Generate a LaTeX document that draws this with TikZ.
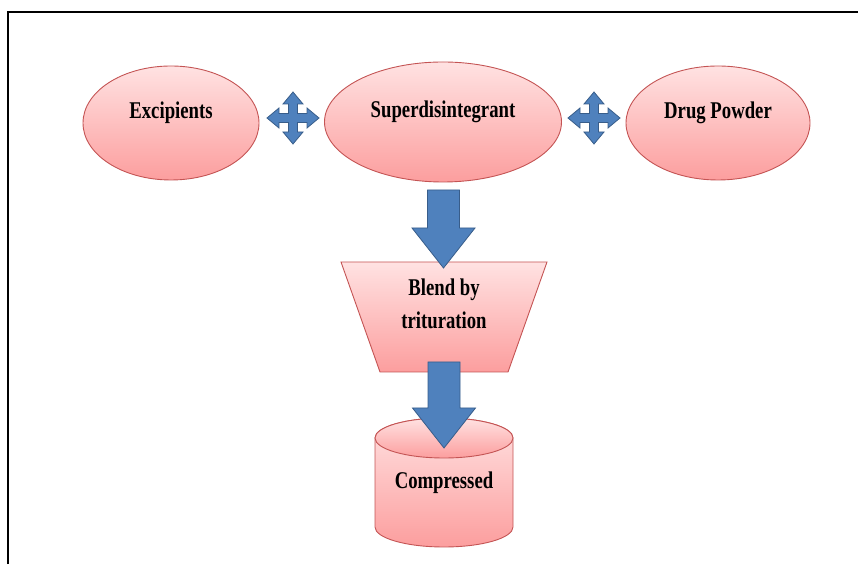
\documentclass[tikz,border=0pt]{standalone}
\usepackage{fontspec}
\setmainfont{Liberation Serif}
\usepackage{tikz}
\usepackage{xcolor}
\usetikzlibrary{shapes.geometric, calc, positioning}

\definecolor{pinktop}{RGB}{255,226,226}
\definecolor{pinkbot}{RGB}{252,158,158}
\definecolor{pinkline}{RGB}{196,84,84}
\definecolor{arrowfill}{RGB}{79,129,189}
\definecolor{arrowline}{RGB}{56,93,138}

\newcommand{\lbl}[1]{\scalebox{0.78}[1]{\bfseries #1}}

\tikzset{
  blob/.style={draw=pinkline, line width=0.9pt, top color=pinktop, bottom color=pinkbot},
  word/.style={font=\fontsize{24}{33}\selectfont, align=center, inner sep=0pt},
  arrowblk/.style={draw=arrowline, line width=0.8pt, fill=arrowfill},
  quad/.pic={
    \draw[arrowblk] (26,0) -- (14,-10) -- (14,-4.5) -- (4.5,-4.5) -- (4.5,-14) -- (10,-14) -- (0,-26)
      -- (-10,-14) -- (-4.5,-14) -- (-4.5,-4.5) -- (-14,-4.5) -- (-14,-10) -- (-26,0)
      -- (-14,10) -- (-14,4.5) -- (-4.5,4.5) -- (-4.5,14) -- (-10,14) -- (0,26)
      -- (10,14) -- (4.5,14) -- (4.5,4.5) -- (14,4.5) -- (14,10) -- cycle;
  },
  down/.pic={
    \draw[arrowblk] (0,0) -- (31.5,40) -- (16,40) -- (16,#1) -- (-16,#1) -- (-16,40) -- (-31.5,40) -- cycle;
  }
}

\begin{document}
\begin{tikzpicture}[x=1pt, y=1pt]
  \useasboundingbox (0,0) rectangle (858,564);
  \draw[line width=2pt] (7.5,0) -- (7.5,552) -- (858,552);

  \node[blob, ellipse, minimum width=176pt, minimum height=114pt,
        label={[word, yshift=10pt]center:\lbl{Excipients}}] (exc) at (171,441) {};
  \node[blob, ellipse, minimum width=237pt, minimum height=120pt,
        label={[word, yshift=10pt]center:\lbl{Superdisintegrant}}] (sup) at (443,442) {};
  \node[blob, ellipse, minimum width=184pt, minimum height=114pt,
        label={[word, yshift=10pt]center:\lbl{Drug Powder}}] (drug) at (718,441) {};

  \pic at (293,446) {quad};
  \pic at (594,446) {quad};

  \draw[blob] (341,302) -- (547,302) -- (508,192) -- (380,192) -- cycle;
  \node[word] (blend) at (444,260) {\lbl{Blend by}\\\lbl{trituration}};

  \draw[blob] (375,126) -- (375,37) arc[start angle=180, end angle=360, x radius=69, y radius=20]
    -- (513,126) arc[start angle=0, end angle=180, x radius=69, y radius=20] -- cycle;
  \draw[blob] (444,126) ellipse[x radius=69, y radius=20];
  \coordinate (cyltop) at (444,126);
  \node[word] (comp) at (444,81) {\lbl{Compressed}};

  \pic at (443.5,296) {down=78};
  \pic at ([yshift=-10pt]cyltop) {down=86};
\end{tikzpicture}
\end{document}
